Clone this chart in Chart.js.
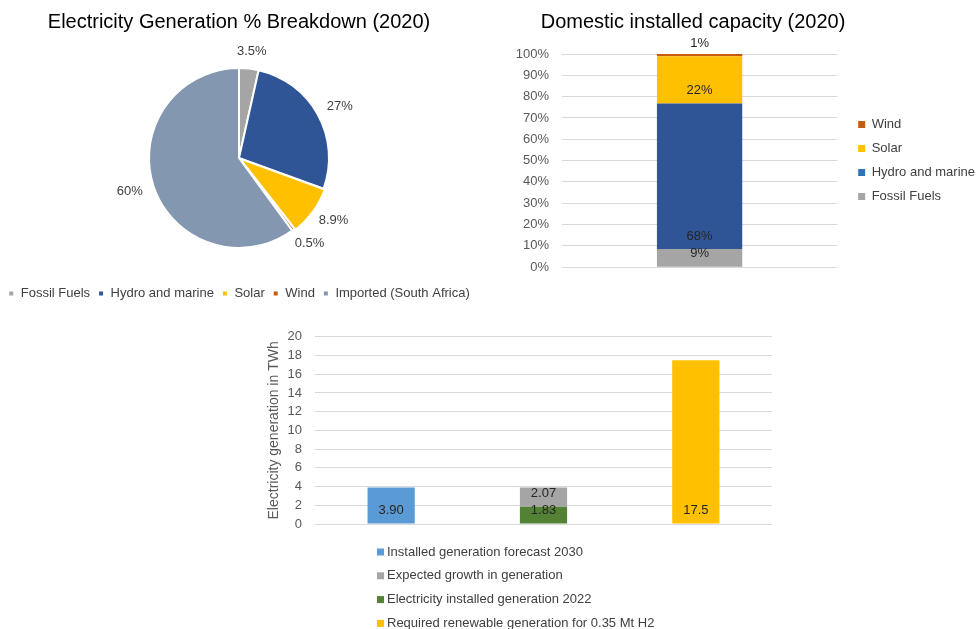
<!DOCTYPE html>
<html>
<head>
<meta charset="utf-8">
<script src="https://cdn.jsdelivr.net/npm/chart.js@4/dist/chart.umd.min.js"></script>
<style>
  body { margin: 0; background: #fff; width: 977px; height: 629px; position: relative; overflow: hidden; }
  .box { position: absolute; }
</style>
</head>
<body>
<div class="box" style="left:0;top:0;width:490px;height:310px"><canvas id="pieChart"></canvas></div>
<div class="box" style="left:401px;top:0;width:584px;height:288px"><canvas id="capacityChart"></canvas></div>
<div class="box" style="left:260px;top:316px;width:520px;height:313px"><canvas id="genChart"></canvas></div>
<script>
// generation mix 2020 (pie)
var mixLabels = ['Fossil Fuels', 'Hydro and marine', 'Solar', 'Wind', 'Imported (South Africa)'];
var mixShare = [3.5, 27, 8.9, 0.5, 60];
var mixText = ['3.5%', '27%', '8.9%', '0.5%', '60%'];
var mixColors = ['#A5A5A5', '#2F5597', '#FFC000', '#C55A11', '#8497B0'];

// domestic installed capacity 2020 (100% stacked bar)
var capCategory = ['2020'];
var capFossil = [8.5];
var capHydro = [68.3];
var capSolar = [22.2];
var capWind = [1.0];

// electricity generation in TWh
var genCategories = ['Forecast 2030', 'Installed 2022 + growth', 'Required for H2'];
var genForecast = [3.90, null, null];
var genInstalled = [null, 1.83, null];
var genGrowth = [null, 2.07, null];
var genRequired = [null, null, 17.5];
var genTicks = [0, 2, 4, 6, 8, 10, 12, 14, 16, 18, 20];

Chart.defaults.font.family = '"Liberation Sans", Arial, sans-serif';
Chart.defaults.font.size = 13;
Chart.defaults.color = '#404040';
Chart.defaults.animation = false;

var pieLabels = {
    id: 'pieLabels',
    afterDraw: function (chart) {
        var c = chart.ctx;
        var meta = chart.getDatasetMeta(0);
        c.save();
        c.font = '13px "Liberation Sans", Arial, sans-serif';
        c.fillStyle = '#404040';
        c.textAlign = 'center';
        c.textBaseline = 'middle';
        meta.data.forEach(function (arc, i) {
            var p = arc.getProps(['x', 'y', 'startAngle', 'endAngle', 'outerRadius']);
            var mid = (p.startAngle + p.endAngle) / 2;
            var r = p.outerRadius + 12;
            var hw = c.measureText(mixText[i]).width / 2;
            var x = p.x + Math.cos(mid) * r + Math.cos(mid) * hw;
            var y = p.y + Math.sin(mid) * r + Math.sin(mid) * 5;
            c.fillText(mixText[i], x, y);
        });
        c.restore();
    }
};

// labels sit just above the base of each bar segment
function baseLabels(fmt) {
    return {
        id: 'baseLabels',
        afterDatasetsDraw: function (chart) {
            var c = chart.ctx;
            c.save();
            c.font = '13px "Liberation Sans", Arial, sans-serif';
            c.fillStyle = '#262626';
            c.textAlign = 'center';
            c.textBaseline = 'middle';
            chart.data.datasets.forEach(function (ds, di) {
                var meta = chart.getDatasetMeta(di);
                meta.data.forEach(function (bar, i) {
                    var v = ds.data[i];
                    if (v === null || v === undefined) return;
                    c.fillText(fmt(v, di), bar.x, bar.base - 13);
                });
            });
            c.restore();
        }
    };
}

new Chart(document.getElementById('pieChart'), {
    type: 'pie',
    data: {
        labels: mixLabels,
        datasets: [{
            data: mixShare,
            backgroundColor: mixColors,
            borderColor: '#ffffff',
            borderWidth: 2,
            offset: [0, 0, 4, 0, 0],
            radius: 90
        }]
    },
    options: {
        responsive: true,
        maintainAspectRatio: false,
        layout: { padding: { right: 12 } },
        plugins: {
            title: {
                display: true,
                text: 'Electricity Generation % Breakdown (2020)',
                color: '#000000',
                font: { size: 20, weight: 'normal' },
                padding: { top: 10, bottom: 3 }
            },
            legend: {
                position: 'bottom',
                labels: { boxWidth: 6, boxHeight: 6, padding: 8, color: '#404040' }
            },
            tooltip: { enabled: false }
        }
    },
    plugins: [pieLabels]
});

new Chart(document.getElementById('capacityChart'), {
    type: 'bar',
    data: {
        labels: capCategory,
        datasets: [
            { label: 'Fossil Fuels', data: capFossil, backgroundColor: '#A5A5A5' },
            { label: 'Hydro and marine', data: capHydro, backgroundColor: '#2F5597' },
            { label: 'Solar', data: capSolar, backgroundColor: '#FFC000' },
            { label: 'Wind', data: capWind, backgroundColor: '#C55A11' }
        ]
    },
    options: {
        responsive: true,
        maintainAspectRatio: false,
        datasets: { bar: { categoryPercentage: 1, barPercentage: 0.31 } },
        scales: {
            x: { stacked: true, display: false },
            y: {
                stacked: true,
                min: 0,
                max: 100,
                afterFit: function (axis) { axis.width = 161; },
                ticks: { stepSize: 10, padding: 13, color: '#595959', callback: function (v) { return v + '%'; } },
                grid: { color: '#D9D9D9', drawTicks: false },
                border: { display: false }
            },
            gap: {
                position: 'right',
                display: true,
                grid: { display: false, drawTicks: false },
                border: { display: false },
                ticks: { display: false },
                afterFit: function (axis) { axis.width = 10; }
            }
        },
        plugins: {
            title: {
                display: true,
                text: 'Domestic installed capacity (2020)',
                color: '#000000',
                font: { size: 20, weight: 'normal' },
                padding: { top: 10, bottom: 20 }
            },
            legend: {
                position: 'right',
                fullSize: false,
                reverse: true,
                maxWidth: 150,
                labels: {
                    boxWidth: 7, boxHeight: 7, padding: 11, color: '#404040',
                    generateLabels: function (chart) {
                        var items = Chart.defaults.plugins.legend.labels.generateLabels(chart);
                        items.forEach(function (it) {
                            if (it.text === 'Hydro and marine') { it.fillStyle = '#2E75B6'; it.strokeStyle = '#2E75B6'; }
                        });
                        return items;
                    }
                }
            },
            tooltip: { enabled: false }
        }
    },
    plugins: [baseLabels(function (v) { return Math.round(v) + '%'; })]
});

var genDecimals = [2, 2, 2, 1];
var legendOrder = [0, 2, 1, 3];

var genLegend = {
    id: 'genLegend',
    afterDraw: function (chart) {
        var c = chart.ctx;
        var area = chart.chartArea;
        c.save();
        c.font = '13px "Liberation Sans", Arial, sans-serif';
        c.textAlign = 'left';
        c.textBaseline = 'middle';
        legendOrder.forEach(function (di, row) {
            var ds = chart.data.datasets[di];
            var y = area.bottom + 28 + row * 23.8;
            c.fillStyle = ds.backgroundColor;
            c.fillRect(117, y - 3.5, 7, 7);
            c.fillStyle = '#404040';
            c.fillText(ds.label, 127, y);
        });
        c.restore();
    }
};

new Chart(document.getElementById('genChart'), {
    type: 'bar',
    data: {
        labels: genCategories,
        datasets: [
            { label: 'Installed generation forecast 2030', data: genForecast, backgroundColor: '#5B9BD5' },
            { label: 'Electricity installed generation 2022', data: genInstalled, backgroundColor: '#548235' },
            { label: 'Expected growth in generation', data: genGrowth, backgroundColor: '#A5A5A5' },
            { label: 'Required renewable generation for 0.35 Mt H2', data: genRequired, backgroundColor: '#FFC000' }
        ]
    },
    options: {
        responsive: true,
        maintainAspectRatio: false,
        layout: { padding: { top: 0, right: 8, bottom: 105, left: 0 } },
        datasets: { bar: { categoryPercentage: 1, barPercentage: 0.31 } },
        scales: {
            x: { stacked: true, display: false },
            y: {
                stacked: true,
                min: 0,
                max: 20,
                afterBuildTicks: function (axis) { axis.ticks = genTicks.map(function (v) { return { value: v }; }); },
                afterFit: function (axis) { axis.width = 55; },
                ticks: { color: '#595959', padding: 13 },
                grid: { color: '#D9D9D9', drawTicks: false },
                border: { display: false },
                title: {
                    display: true,
                    text: 'Electricity generation in TWh',
                    color: '#595959',
                    font: { size: 14 },
                    padding: { top: 6, bottom: 5 }
                }
            }
        },
        plugins: {
            legend: { display: false },
            tooltip: { enabled: false }
        }
    },
    plugins: [baseLabels(function (v, di) { return v.toFixed(genDecimals[di]); }), genLegend]
});
</script>
</body>
</html>
